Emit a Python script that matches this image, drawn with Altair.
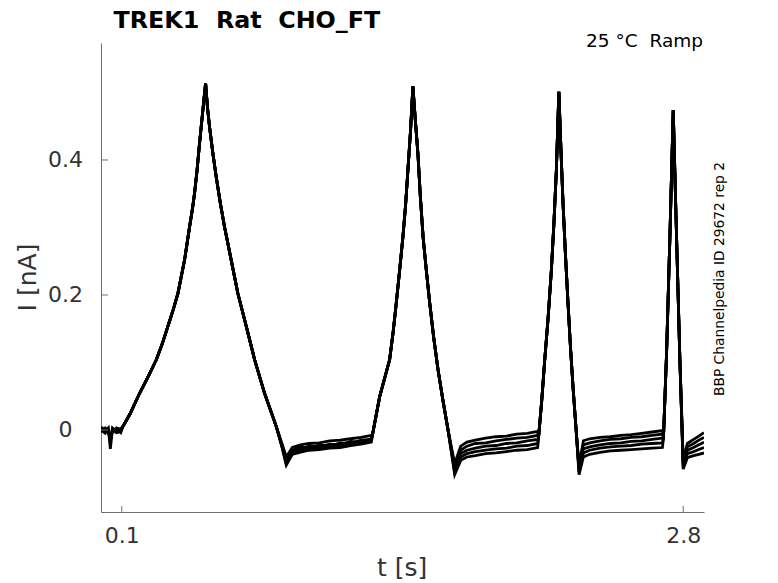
import altair as alt
import pandas as pd

# ---- data ----
start_t = [0.0, 0.02, 0.035, 0.045, 0.055, 0.075, 0.095]
start_i = [
    [0.002, -0.002, 0.003, -0.028, 0.001, -0.003, 0.002],
    [-0.003, 0.002, -0.004, -0.012, -0.002, 0.001, -0.004],
    [0.000, -0.005, 0.001, -0.018, 0.003, -0.002, 0.000],
    [0.004, 0.000, -0.002, -0.008, -0.004, 0.003, 0.001],
    [-0.001, 0.003, 0.000, -0.015, 0.000, -0.004, -0.002],
]

rise1_t = [0.105, 0.140, 0.185, 0.225, 0.266, 0.295, 0.321, 0.347, 0.370, 0.402, 0.426, 0.440, 0.450, 0.462, 0.474, 0.488, 0.503]
rise1_i = [0.005, 0.024, 0.054, 0.078, 0.104, 0.128, 0.153, 0.178, 0.2025, 0.252, 0.301, 0.328, 0.351, 0.385, 0.425, 0.468, 0.514]
fall1_t = [0.512, 0.522, 0.538, 0.554, 0.574, 0.594, 0.626, 0.658, 0.699, 0.739, 0.787, 0.843]
fall1_i = [0.478, 0.449, 0.410, 0.375, 0.336, 0.301, 0.252, 0.2025, 0.153, 0.104, 0.054, 0.005]

flat1_t = [0.87, 0.891, 0.92, 0.96, 1.00, 1.05, 1.10, 1.15, 1.20, 1.25, 1.30]
flat1_i = [
    [-0.020, -0.040, -0.026, -0.022, -0.020, -0.019, -0.016, -0.015, -0.013, -0.011, -0.008],
    [-0.022, -0.046, -0.031, -0.028, -0.024, -0.025, -0.021, -0.022, -0.017, -0.018, -0.013],
    [-0.024, -0.050, -0.035, -0.030, -0.029, -0.026, -0.026, -0.023, -0.022, -0.019, -0.016],
    [-0.023, -0.044, -0.030, -0.025, -0.027, -0.022, -0.024, -0.019, -0.020, -0.015, -0.014],
    [-0.025, -0.052, -0.036, -0.033, -0.030, -0.029, -0.027, -0.026, -0.023, -0.021, -0.018],
]

rise2_t = [1.305, 1.340, 1.388, 1.405, 1.420, 1.436, 1.452, 1.465, 1.476, 1.489, 1.500]
rise2_i = [-0.008, 0.049, 0.104, 0.145, 0.188, 0.236, 0.286, 0.334, 0.385, 0.445, 0.509]
fall2_t = [1.512, 1.524, 1.536, 1.549, 1.565, 1.581, 1.600, 1.621, 1.645, 1.669]
fall2_i = [0.458, 0.410, 0.345, 0.286, 0.235, 0.188, 0.137, 0.089, 0.043, 0.000]

flat2_t = [1.701, 1.73, 1.76, 1.80, 1.85, 1.90, 1.95, 2.00, 2.05, 2.10]
flat2_i = [
    [-0.050, -0.024, -0.018, -0.015, -0.012, -0.010, -0.009, -0.006, -0.005, -0.002],
    [-0.055, -0.030, -0.024, -0.020, -0.019, -0.016, -0.014, -0.012, -0.011, -0.008],
    [-0.059, -0.035, -0.030, -0.027, -0.024, -0.023, -0.020, -0.019, -0.016, -0.014],
    [-0.062, -0.040, -0.035, -0.032, -0.030, -0.028, -0.027, -0.024, -0.023, -0.020],
    [-0.066, -0.045, -0.040, -0.038, -0.035, -0.034, -0.032, -0.030, -0.029, -0.026],
]

rise3_t = [2.104, 2.120, 2.134, 2.150, 2.166, 2.178, 2.190, 2.202]
rise3_i = [-0.012, 0.045, 0.104, 0.165, 0.237, 0.305, 0.385, 0.501]
fall3_t = [2.212, 2.222, 2.234, 2.246, 2.258, 2.270, 2.285]
fall3_i = [0.415, 0.336, 0.258, 0.188, 0.122, 0.064, 0.000]

flat3_t = [2.299, 2.32, 2.35, 2.40, 2.45, 2.50, 2.55, 2.60, 2.65, 2.70]
flat3_i = [
    [-0.052, -0.016, -0.013, -0.011, -0.010, -0.008, -0.007, -0.005, -0.003, -0.001],
    [-0.056, -0.022, -0.019, -0.016, -0.014, -0.013, -0.011, -0.010, -0.008, -0.006],
    [-0.059, -0.028, -0.025, -0.022, -0.020, -0.019, -0.017, -0.016, -0.014, -0.012],
    [-0.062, -0.034, -0.030, -0.027, -0.025, -0.024, -0.023, -0.021, -0.020, -0.019],
    [-0.066, -0.040, -0.036, -0.033, -0.031, -0.030, -0.029, -0.028, -0.027, -0.026],
]

rise4_t = [2.705, 2.720, 2.736, 2.752]
rise4_i = [-0.012, 0.114, 0.286, 0.474]
fall4_t = [2.768, 2.784]
fall4_i = [0.286, 0.104]

end_t = [2.800, 2.82, 2.85, 2.875, 2.90]
end_i = [
    [-0.045, -0.020, -0.014, -0.009, -0.004],
    [-0.049, -0.025, -0.020, -0.015, -0.011],
    [-0.052, -0.030, -0.026, -0.022, -0.018],
    [-0.055, -0.035, -0.032, -0.029, -0.026],
    [-0.058, -0.041, -0.038, -0.036, -0.034],
]

x_ticks = [0.1, 2.8]
y_ticks = [0, 0.2, 0.4]

# ---- build long table ----
rows = []
for r in range(5):
    segs = [
        (start_t, start_i[r]), (rise1_t, rise1_i), (fall1_t, fall1_i),
        (flat1_t, flat1_i[r]), (rise2_t, rise2_i), (fall2_t, fall2_i),
        (flat2_t, flat2_i[r]), (rise3_t, rise3_i), (fall3_t, fall3_i),
        (flat3_t, flat3_i[r]), (rise4_t, rise4_i), (fall4_t, fall4_i),
        (end_t, end_i[r]),
    ]
    k = 0
    for ts, vs in segs:
        for t, v in zip(ts, vs):
            rows.append({"rep": r + 1, "k": k, "t": t, "i": v})
            k += 1
df = pd.DataFrame(rows)

W, H = 603, 469
FONT = "DejaVu Sans"
AX = "#6e6e6e"
LAB = "#333333"

xs = alt.Scale(domain=[0, 2.9], nice=False, zero=False)
ys = alt.Scale(domain=[-0.1215, 0.5733], nice=False, zero=False)

lines = alt.Chart(df).mark_line(color="black", strokeWidth=2.8, clip=True).encode(
    x=alt.X("t:Q", scale=xs, axis=alt.Axis(
        values=x_ticks, format="~g", title=None, grid=False, ticks=False, tickSize=0,
        domainColor=AX, labelColor=LAB, labelFont=FONT, labelFontSize=22,
        labelPadding=30, labelBaseline="alphabetic", labelFlush=False)),
    y=alt.Y("i:Q", scale=ys, axis=alt.Axis(
        values=y_ticks, format="~g", title=None, grid=False, ticks=False, tickSize=0,
        domainColor=AX, labelColor=LAB, labelFont=FONT, labelFontSize=22,
        labelPadding=36, labelAlign="center", labelBaseline="middle", labelFlush=False)),
    detail="rep:N",
    order="k:Q",
)

xt = alt.Chart(pd.DataFrame({"t": x_ticks})).mark_rule(color=AX, strokeWidth=1).encode(
    x=alt.X("t:Q", scale=xs), y=alt.value(H), y2=alt.value(H - 6))
yt = alt.Chart(pd.DataFrame({"i": y_ticks})).mark_rule(color=AX, strokeWidth=1).encode(
    y=alt.Y("i:Q", scale=ys), x=alt.value(0), x2=alt.value(7))

one = pd.DataFrame({"a": [0]})
title = alt.Chart(one).mark_text(
    text="TREK1\u00a0\u00a0Rat\u00a0\u00a0CHO_FT", font=FONT, fontSize=23.8, fontWeight="bold",
    align="left", baseline="alphabetic", color="black").encode(x=alt.value(12.5), y=alt.value(-15.3))
cond = alt.Chart(one).mark_text(
    text="25 °C\u00a0\u00a0Ramp", font=FONT, fontSize=18.5, align="right", baseline="alphabetic",
    color="black").encode(x=alt.value(602), y=alt.value(4.3))
side = alt.Chart(one).mark_text(
    text="BBP Channelpedia ID 29672 rep 2", font=FONT, fontSize=13.8, angle=270, align="center",
    baseline="middle", color="black").encode(x=alt.value(618.5), y=alt.value(236))
xtitle = alt.Chart(one).mark_text(
    text="t [s]", font=FONT, fontSize=25, align="center", baseline="alphabetic",
    color=LAB).encode(x=alt.value(301.2), y=alt.value(533))
ytitle = alt.Chart(one).mark_text(
    text="I [nA]", font=FONT, fontSize=25, angle=270, align="center", baseline="middle",
    color=LAB).encode(x=alt.value(-73), y=alt.value(234.5))

chart = alt.layer(lines, xt, yt, title, cond, side, xtitle, ytitle).properties(
    width=W, height=H, autosize="none",
    padding={"left": 93, "top": 35, "right": 40, "bottom": 72},
).configure(background="white").configure_view(strokeWidth=0, stroke="transparent")

chart.save("out.html", embed_options={"renderer": "svg", "actions": False})
